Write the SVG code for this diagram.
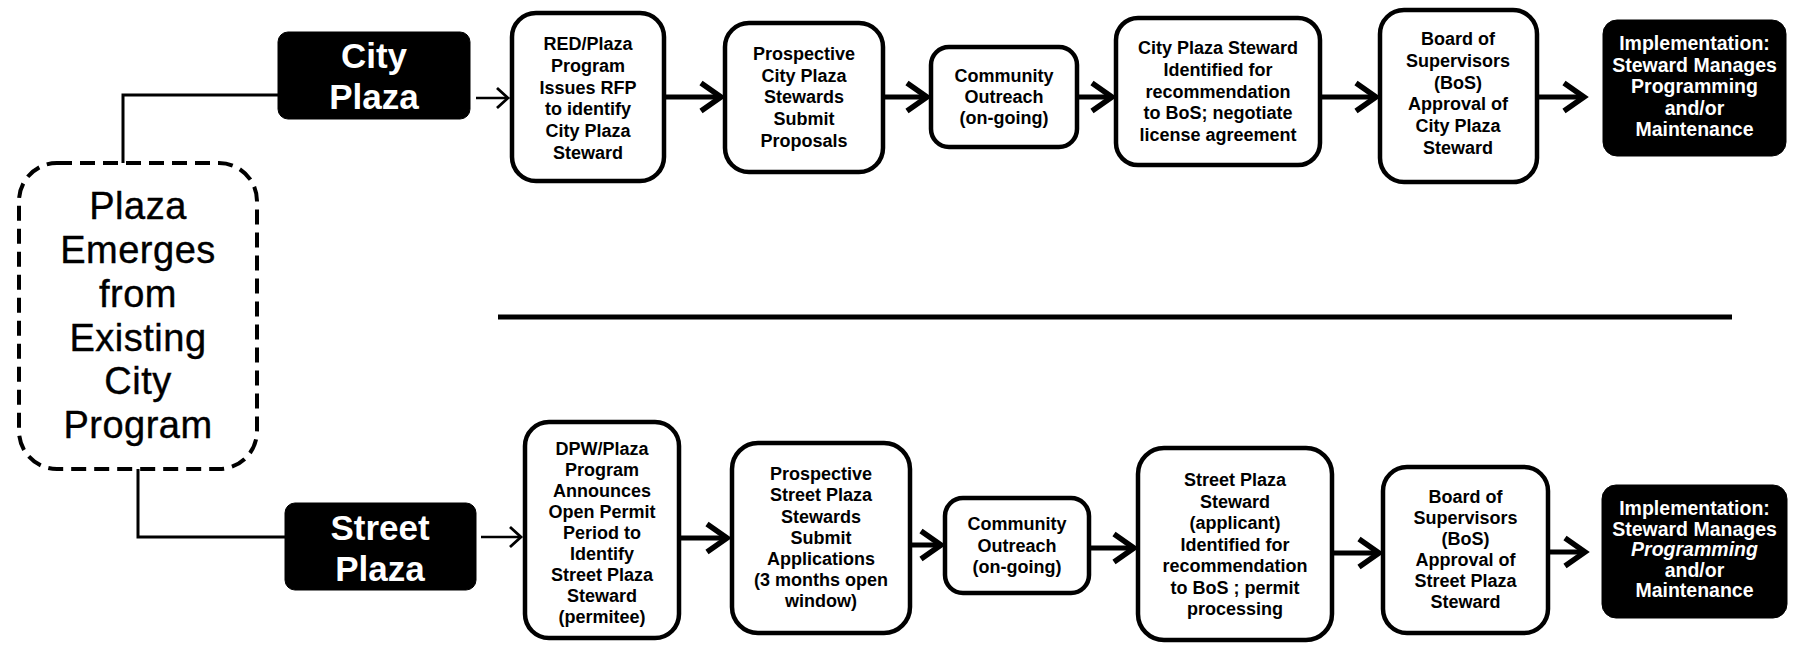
<svg xmlns="http://www.w3.org/2000/svg" width="1796" height="662" viewBox="0 0 1796 662">
<style>
.bg{fill:#fff}
.box{fill:#fff;stroke:#000;stroke-width:4.5}
.blk{fill:#000;stroke:#000;stroke-width:1}
.t{font-family:"Liberation Sans",Arial,sans-serif;font-weight:bold;font-size:18px;text-anchor:middle;fill:#000}
.w{fill:#fff}
.imp{font-size:19.5px}
.big{font-size:35px}
.emg{font-family:"Liberation Sans",Arial,sans-serif;font-weight:normal;font-size:38px;letter-spacing:0.5px;text-anchor:middle;fill:#000;stroke:#000;stroke-width:0.4}
.dash{fill:#fff;stroke:#000;stroke-width:4;stroke-dasharray:15 8}
.ln{fill:none;stroke:#000;stroke-width:3}
.thin{fill:none;stroke:#000;stroke-width:2.5;marker-end:url(#ahs)}
.thick{fill:none;stroke:#000;stroke-width:5;marker-end:url(#ahb)}
.sep{stroke:#000;stroke-width:5}
</style>
<defs>
<marker id="ahb" markerUnits="userSpaceOnUse" viewBox="0 0 34 34" markerWidth="34" markerHeight="34" refX="24" refY="17" orient="auto" overflow="visible">
<path d="M4,3 L24,17 L4,31" fill="none" stroke="#000" stroke-width="5.5"/>
</marker>
<marker id="ahs" markerUnits="userSpaceOnUse" viewBox="0 0 18 24" markerWidth="18" markerHeight="24" refX="13" refY="12" orient="auto" overflow="visible">
<path d="M2,2 L13,12 L2,22" fill="none" stroke="#000" stroke-width="2.8"/>
</marker>
</defs>
<rect class="bg" x="0" y="0" width="1796" height="662"/>

<g id="connectors">
<polyline class="ln" points="123,163 123,95 278,95"/>
<polyline class="ln" points="138,469 138,537 285,537"/>
<line class="thin" x1="476" y1="98" x2="508" y2="98"/>
<line class="thick" x1="664" y1="97" x2="721" y2="97"/>
<line class="thick" x1="883" y1="97" x2="927" y2="97"/>
<line class="thick" x1="1077" y1="97" x2="1112" y2="97"/>
<line class="thick" x1="1320" y1="97" x2="1376" y2="97"/>
<line class="thick" x1="1537" y1="97" x2="1584" y2="97"/>
<line class="thin" x1="481" y1="537" x2="521" y2="537"/>
<line class="thick" x1="679" y1="538" x2="727" y2="538"/>
<line class="thick" x1="910" y1="545" x2="941" y2="545"/>
<line class="thick" x1="1089" y1="548" x2="1134" y2="548"/>
<line class="thick" x1="1332" y1="553" x2="1379" y2="553"/>
<line class="thick" x1="1548" y1="552" x2="1585" y2="552"/>
</g>

<line id="separator" class="sep" x1="498" y1="317" x2="1732" y2="317"/>

<g id="plaza-emerges">
<rect class="dash" x="19" y="163" width="238" height="306" rx="38"/>
<text class="emg"><tspan x="138" y="219">Plaza</tspan><tspan x="138" y="263">Emerges</tspan><tspan x="138" y="307">from</tspan><tspan x="138" y="351">Existing</tspan><tspan x="138" y="394">City</tspan><tspan x="138" y="438">Program</tspan></text>
</g>

<g id="city-plaza">
<rect class="blk" x="278" y="32" width="192" height="87" rx="10"/>
<text class="t w big"><tspan x="374" y="68">City</tspan><tspan x="374" y="109">Plaza</tspan></text>
</g>

<g id="street-plaza">
<rect class="blk" x="285" y="503" width="191" height="87" rx="10"/>
<text class="t w big"><tspan x="380" y="540">Street</tspan><tspan x="380" y="581">Plaza</tspan></text>
</g>

<g id="red-rfp">
<rect class="box" x="512" y="13" width="152" height="168" rx="24"/>
<text class="t"><tspan x="588" y="50">RED/Plaza</tspan><tspan x="588" y="72">Program</tspan><tspan x="588" y="93.5">Issues RFP</tspan><tspan x="588" y="115">to identify</tspan><tspan x="588" y="137">City Plaza</tspan><tspan x="588" y="159">Steward</tspan></text>
</g>

<g id="city-proposals">
<rect class="box" x="725" y="23" width="158" height="149" rx="24"/>
<text class="t"><tspan x="804" y="60">Prospective</tspan><tspan x="804" y="82">City Plaza</tspan><tspan x="804" y="103">Stewards</tspan><tspan x="804" y="125">Submit</tspan><tspan x="804" y="147">Proposals</tspan></text>
</g>

<g id="city-outreach">
<rect class="box" x="931" y="47" width="146" height="100" rx="18"/>
<text class="t"><tspan x="1004" y="82">Community</tspan><tspan x="1004" y="103">Outreach</tspan><tspan x="1004" y="124">(on-going)</tspan></text>
</g>

<g id="city-steward-identified">
<rect class="box" x="1116" y="18" width="204" height="147" rx="22"/>
<text class="t"><tspan x="1218" y="54">City Plaza Steward</tspan><tspan x="1218" y="76">Identified for</tspan><tspan x="1218" y="97.5">recommendation</tspan><tspan x="1218" y="119">to BoS; negotiate</tspan><tspan x="1218" y="141">license agreement</tspan></text>
</g>

<g id="city-bos">
<rect class="box" x="1380" y="10" width="157" height="172" rx="24"/>
<text class="t"><tspan x="1458" y="45">Board of</tspan><tspan x="1458" y="67">Supervisors</tspan><tspan x="1458" y="89">(BoS)</tspan><tspan x="1458" y="110">Approval of</tspan><tspan x="1458" y="132">City Plaza</tspan><tspan x="1458" y="154">Steward</tspan></text>
</g>

<g id="city-implementation">
<rect class="blk" x="1603" y="20" width="183" height="136" rx="14"/>
<text class="t w imp"><tspan x="1694.5" y="50">Implementation:</tspan><tspan x="1694.5" y="71.5">Steward Manages</tspan><tspan x="1694.5" y="93">Programming</tspan><tspan x="1694.5" y="114.5">and/or</tspan><tspan x="1694.5" y="136">Maintenance</tspan></text>
</g>

<g id="dpw-permit">
<rect class="box" x="525" y="422" width="154" height="216" rx="24"/>
<text class="t"><tspan x="602" y="455">DPW/Plaza</tspan><tspan x="602" y="476">Program</tspan><tspan x="602" y="497">Announces</tspan><tspan x="602" y="518">Open Permit</tspan><tspan x="602" y="539">Period to</tspan><tspan x="602" y="560">Identify</tspan><tspan x="602" y="581">Street Plaza</tspan><tspan x="602" y="602">Steward</tspan><tspan x="602" y="623">(permitee)</tspan></text>
</g>

<g id="street-applications">
<rect class="box" x="732" y="443" width="178" height="190" rx="26"/>
<text class="t"><tspan x="821" y="480">Prospective</tspan><tspan x="821" y="501">Street Plaza</tspan><tspan x="821" y="522.5">Stewards</tspan><tspan x="821" y="543.5">Submit</tspan><tspan x="821" y="565">Applications</tspan><tspan x="821" y="586">(3 months open</tspan><tspan x="821" y="607">window)</tspan></text>
</g>

<g id="street-outreach">
<rect class="box" x="945" y="498" width="144" height="95" rx="18"/>
<text class="t"><tspan x="1017" y="530">Community</tspan><tspan x="1017" y="551.5">Outreach</tspan><tspan x="1017" y="573">(on-going)</tspan></text>
</g>

<g id="street-steward-identified">
<rect class="box" x="1138" y="448" width="194" height="192" rx="26"/>
<text class="t"><tspan x="1235" y="486">Street Plaza</tspan><tspan x="1235" y="508">Steward</tspan><tspan x="1235" y="529">(applicant)</tspan><tspan x="1235" y="551">Identified for</tspan><tspan x="1235" y="572">recommendation</tspan><tspan x="1235" y="594">to BoS ; permit</tspan><tspan x="1235" y="615">processing</tspan></text>
</g>

<g id="street-bos">
<rect class="box" x="1383" y="467" width="165" height="166" rx="24"/>
<text class="t"><tspan x="1465.5" y="503">Board of</tspan><tspan x="1465.5" y="524">Supervisors</tspan><tspan x="1465.5" y="545">(BoS)</tspan><tspan x="1465.5" y="566">Approval of</tspan><tspan x="1465.5" y="587">Street Plaza</tspan><tspan x="1465.5" y="608">Steward</tspan></text>
</g>

<g id="street-implementation">
<rect class="blk" x="1602" y="485" width="185" height="133" rx="14"/>
<text class="t w imp"><tspan x="1694.5" y="515">Implementation:</tspan><tspan x="1694.5" y="535.5">Steward Manages</tspan><tspan x="1694.5" y="556" font-style="italic">Programming</tspan><tspan x="1694.5" y="576.5">and/or</tspan><tspan x="1694.5" y="597">Maintenance</tspan></text>
</g>
</svg>
